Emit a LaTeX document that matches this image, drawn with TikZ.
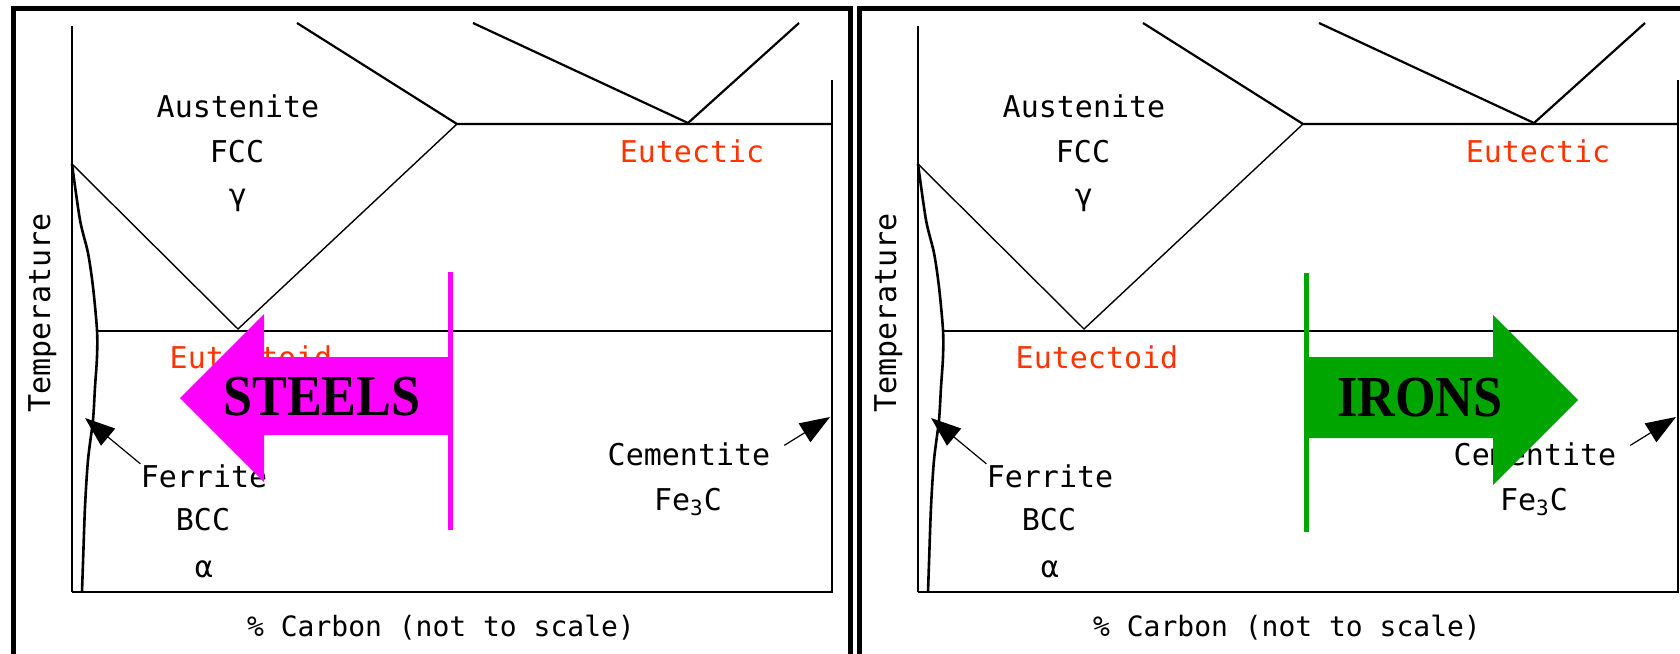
\documentclass[tikz,border=0pt]{standalone}
\usepackage{fontspec}
\setmainfont{DejaVu Sans Mono}
\newfontfamily\bannerfont{Liberation Serif}
\usepackage{xcolor}
\usepackage{tikz}
\usetikzlibrary{arrows.meta}

\definecolor{eutred}{RGB}{255,51,0}
\definecolor{steelmag}{RGB}{255,0,255}
\definecolor{irongreen}{RGB}{0,165,0}

\tikzset{
  lbl/.style={font=\fontsize{15}{18}\selectfont, inner sep=0pt, anchor=base},
  ptr/.style={-{Triangle[length=15pt,width=11pt]}, line width=0.6pt},
  banner/.style={font=\bannerfont\bfseries\fontsize{29}{34}\selectfont, xscale=0.9, inner sep=0pt}
}

\begin{document}
\begin{tikzpicture}[x=0.5pt,y=-0.5pt]
\useasboundingbox (0,0) rectangle (1680,653);
\clip (0,0) rectangle (1680,653);

\foreach\p/\dx in {l/0,r/846}{
\begin{scope}[shift={(\dx,0)}]
% frame and axes
\draw[line width=2.3pt] (13.7,700) -- (13.7,8.5) -- (850.5,8.5) -- (850.5,700);
\draw[line width=0.6pt] (72,26) -- (72,592);
\draw[line width=1.3pt] (72,592) -- (832,592) -- (832,80);
% phase boundaries
\draw[line width=1.1pt] (297,23) -- (457,124) -- (832,124);
\draw[line width=1.1pt] (473,23) -- (688,123) -- (799,23);
\draw[line width=0.7pt] (72,164) -- (238,329) -- (457,124);
\draw[line width=0.8pt] (97,331) -- (832,331);
\draw[line width=1.3pt] plot[smooth] coordinates {(72,164) (80,220) (88,253) (93,287)
      (97,330) (97,357) (95,387) (93,420) (88,460) (85,507) (83,563) (82,592)};
% labels
\node[lbl] (aus\p) at (238,117) {Austenite};
\node[lbl] (fcc\p) at (237,162) {FCC};
\node[lbl] (gam\p) at (238,205) {γ};
\node[lbl,text=eutred] (eutc\p) at (692,162) {Eutectic};
\node[lbl,text=eutred] (eutd\p) at (251,368) {Eutectoid};
\node[lbl] (fer\p) at (204,487) {Ferrite};
\node[lbl] (bcc\p) at (203,530) {BCC};
\node[lbl] (alp\p) at (204,577) {α};
\node[lbl] (cem\p) at (689,465) {Cementite};
\node[lbl] (fec\p) at (688,510) {Fe\textsubscript{3}C};
\node[lbl,font=\fontsize{14}{17}\selectfont] (carb\p) at (441,636) {\% Carbon (not to scale)};
\node[lbl,rotate=90] (temp\p) at (50,313) {Temperature};
\coordinate (fetip\p) at (85,418);
\coordinate (cmtip\p) at (830,417);
\draw[ptr] (fer\p.north west) -- (fetip\p);
\draw[ptr,shorten <=8pt] (cem\p.east) -- (cmtip\p);
\end{scope}
}

% steels
\fill[steelmag] (180,398) -- (264,314) -- (264,357) -- (452,357) -- (452,435)
                -- (264,435) -- (264,482) -- cycle;
\draw[steelmag,line width=2.5pt] (450,272) -- (450,530);
\node[banner] (steels) at (322,397) {STEELS};

% irons
\draw[irongreen,line width=2.5pt] (1306,273) -- (1306,532);
\fill[irongreen] (1306,357) -- (1493,357) -- (1493,315) -- (1578,400) -- (1493,485)
                 -- (1493,438) -- (1306,438) -- cycle;
\node[banner] (irons) at (1420,398) {IRONS};
\end{tikzpicture}
\end{document}
